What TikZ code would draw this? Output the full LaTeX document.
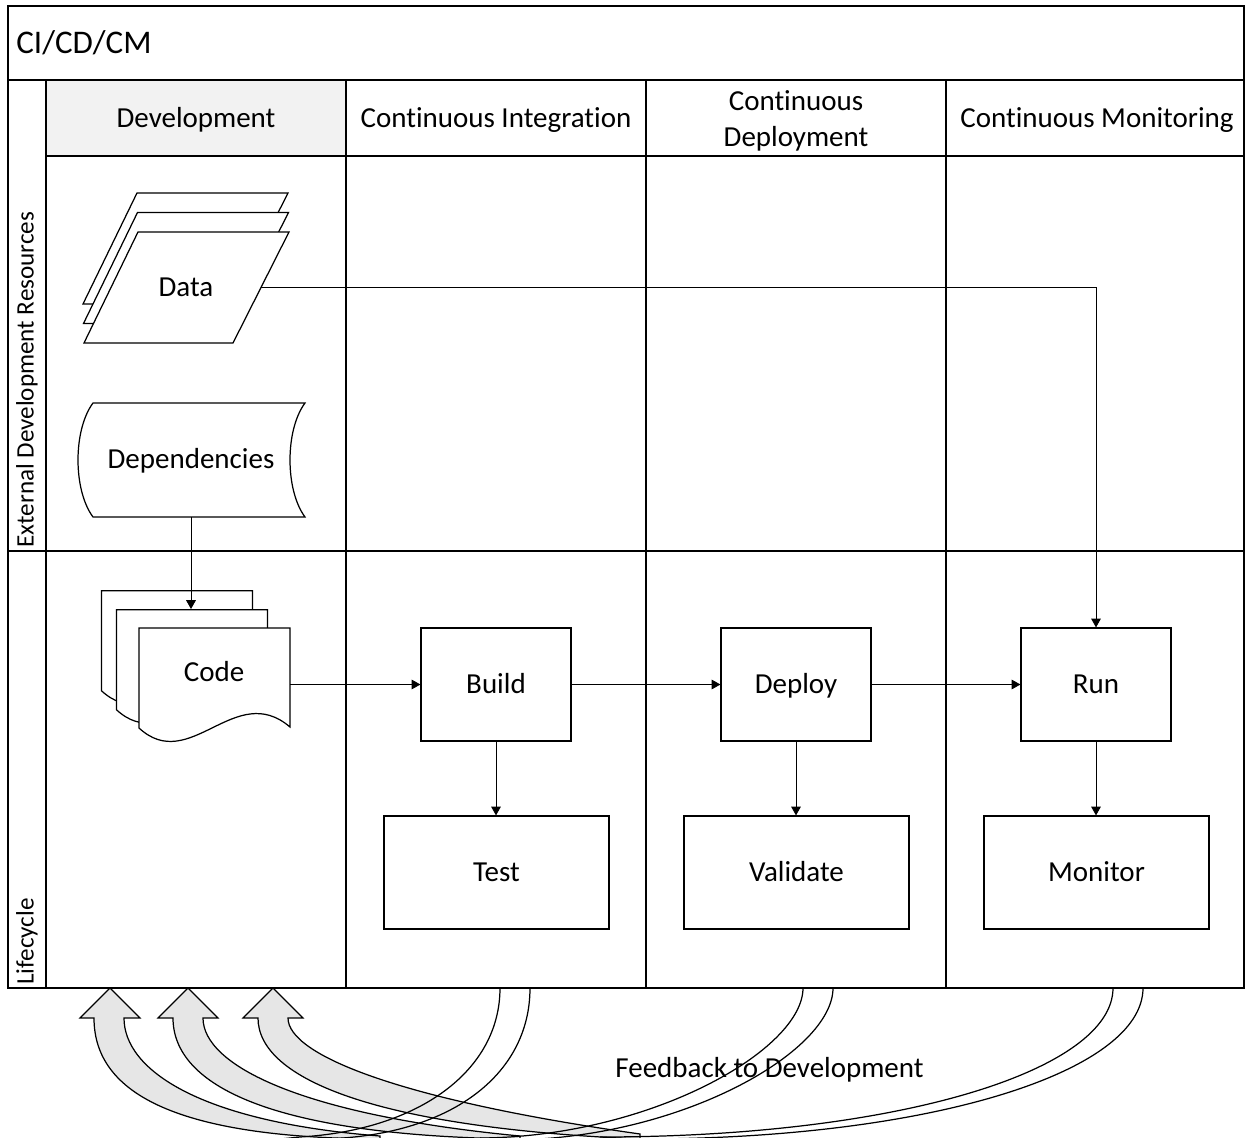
\documentclass[tikz,border=0pt]{standalone}
\usepackage{fontspec}
\setmainfont{Carlito}[Ligatures=NoCommon]
\usetikzlibrary{arrows.meta}
\definecolor{hdrfill}{HTML}{F2F2F2}
\definecolor{bandfill}{HTML}{E6E6E6}
\newcommand\dgbody{\fontsize{16.5pt}{20.6pt}\selectfont}
\newcommand\dgtitle{\fontsize{18.8pt}{22pt}\selectfont}
\newcommand\dglane{\fontsize{14.3pt}{17pt}\selectfont}
\begin{document}
\begin{tikzpicture}[x=0.02cm,y=-0.02cm,
  frameline/.style={line width=0.9pt},
  gridline/.style={line width=0.7pt},
  shapeline/.style={line width=0.7pt},
  txt/.style={inner sep=0pt,font=\dgbody,text height=12.4pt,text depth=1.8pt},
  boxnode/.style={draw,line width=0.7pt,fill=white,minimum height=2.26cm,inner sep=0pt,font=\dgbody,text height=12.4pt,text depth=1.8pt},
  conn/.style={line width=0.5pt,-{Triangle[length=5pt,width=5.5pt]}},
  band/.style={line width=0.7pt,fill=bandfill,line join=miter},
  bandline/.style={line width=0.7pt}]
\useasboundingbox (0,0) rectangle (1247,1138);
\clip (0,0) rectangle (1247,1138);

% ---- frame / swimlanes ----
\fill[hdrfill] (46,80) rectangle (346,156);
\draw[gridline] (8,80) -- (1244,80);
\draw[gridline] (46,80) -- (46,988);
\draw[gridline] (46,156) -- (1244,156);
\draw[gridline] (8,551) -- (1244,551);
\foreach \cx in {346,646,946} \draw[gridline] (\cx,80) -- (\cx,988);
\draw[frameline] (8,6) rectangle (1244,988);

\node[inner sep=0pt,font=\dgtitle,anchor=base west] (title) at (16,54) {CI/CD/CM};
\node[txt] (hdev) at (196,118) {Development};
\node[txt] (hci) at (496,118) {Continuous Integration};
\node[inner sep=0pt,font=\dgbody,align=center] (hcd) at (796,120.5) {Continuous\\Deployment};
\node[txt] (hcm) at (1097,118) {Continuous Monitoring};
\node[inner sep=0pt,font=\dglane,rotate=90,anchor=west] (lext) at (27,548) {External Development Resources};
\node[inner sep=0pt,font=\dglane,rotate=90,anchor=west] (llife) at (27,985) {Lifecycle};

% ---- Data (multiple parallelograms) ----
\foreach \dx/\dy in {-1/-39,-0.5/-19.5,0/0}
  \filldraw[shapeline,fill=white,shift={(\dx,\dy)}] (84,343) -- (233,343) -- (289,232) -- (138,232) -- cycle;
\node[txt] (data) at (186,287) {Data};
\coordinate (dataR) at (261,287);

% ---- Dependencies (stored data) ----
\filldraw[shapeline,fill=white] (93,403) -- (305,403) .. controls (285,430) and (285,490) .. (305,517)
  -- (93,517) .. controls (73,490) and (73,430) .. (93,403) -- cycle;
\node[txt] (deps) at (191,459) {Dependencies};
\coordinate (depsB) at (191,517);

% ---- Code (multiple documents) ----
\foreach \dx/\dy in {-37.6/-37.3,-22.6/-18.3,0/0}
  \filldraw[shapeline,fill=white,shift={(\dx,\dy)}] (139,628) -- (290,628) -- (290,727)
    .. controls (235,680) and (190,775) .. (139,728) -- cycle;
\node[txt] (code) at (214,672) {Code};
\coordinate (codeT) at (191,609);
\coordinate (codeR) at (290,684.5);

% ---- process boxes ----
\node[boxnode,minimum width=3cm] (build) at (496,684.5) {Build};
\node[boxnode,minimum width=4.5cm] (test) at (496.5,872.5) {Test};
\node[boxnode,minimum width=3cm] (deploy) at (796,684.5) {Deploy};
\node[boxnode,minimum width=4.5cm] (validate) at (796.5,872.5) {Validate};
\node[boxnode,minimum width=3cm] (run) at (1096,684.5) {Run};
\node[boxnode,minimum width=4.5cm] (monitor) at (1096.5,872.5) {Monitor};

% ---- connectors ----
\draw[conn] (dataR) -| (run.north);
\draw[conn] (depsB) -- (codeT);
\draw[conn] (codeR) -- (build.west);
\draw[conn] (build.east) -- (deploy.west);
\draw[conn] (deploy.east) -- (run.west);
\draw[conn] (build.south) -- (build.south |- test.north);
\draw[conn] (deploy.south) -- (deploy.south |- validate.north);
\draw[conn] (run.south) -- (run.south |- monitor.north);

% ---- feedback curved arrows ----
\coordinate (fb1) at (110,988);
\coordinate (fb2) at (188,988);
\coordinate (fb3) at (273,988);
\filldraw[band] (fb1) -- (140,1018) -- (124,1018) .. controls (124,1070) and (200,1122) .. (380,1136)
  -- (380,1139) .. controls (180,1138) and (94,1095) .. (94,1018) -- (80,1018) -- cycle;
\filldraw[band] (fb2) -- (218,1018) -- (203,1018) .. controls (203,1065) and (300,1115) .. (520,1136)
  -- (520,1139) .. controls (270,1136) and (173,1085) .. (173,1018) -- (158,1018) -- cycle;
\filldraw[band] (fb3) -- (303,1018) -- (288,1018) .. controls (288,1055) and (400,1100) .. (640,1134)
  -- (640,1139) .. controls (380,1128) and (258,1080) .. (258,1018) -- (243,1018) -- cycle;

\draw[bandline] (500,988) .. controls (500,1070) and (420,1130) .. (300,1137) -- (280,1139);
\draw[bandline] (530,988) .. controls (530,1075) and (450,1137) .. (320,1139);
\draw[bandline] (803,988) .. controls (803,1050) and (650,1137) .. (480,1138);
\draw[bandline] (833,988) .. controls (833,1052) and (680,1139) .. (510,1140);
\draw[bandline] (1113,988) .. controls (1113,1070) and (900,1137) .. (600,1137);
\draw[bandline] (1143,988) .. controls (1143,1072) and (930,1139) .. (640,1139);

\node[txt] (fbtext) at (769.5,1068) {Feedback to Development};
\end{tikzpicture}
\end{document}
